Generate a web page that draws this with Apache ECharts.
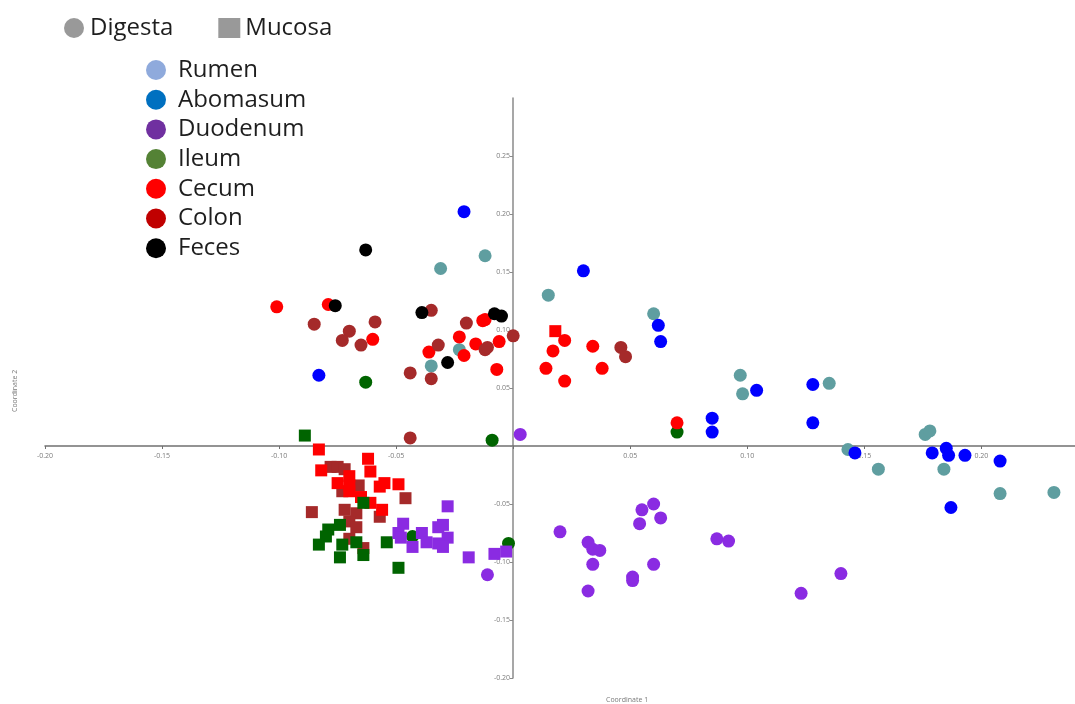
<!DOCTYPE html>
<html>
<head>
<meta charset="utf-8">
<title>PCoA by gut region</title>
<script src="https://cdn.jsdelivr.net/npm/echarts@6/dist/echarts.min.js"></script>
<style>
  html, body { margin: 0; padding: 0; background: #fff; }
  #chart { width: 1075px; height: 704px; }
</style>
</head>
<body>
<div id="chart"></div>
<script>
const regions = ['Rumen', 'Abomasum', 'Duodenum', 'Ileum', 'Cecum', 'Colon', 'Feces']

const rumenDigesta = [
  [-0.012, 0.164], [-0.031, 0.153], [-0.023, 0.083], [-0.035, 0.069], [0.015, 0.130],
  [0.060, 0.114], [0.097, 0.061], [0.098, 0.045], [0.135, 0.054], [0.143, -0.003],
  [0.156, -0.020], [0.176, 0.010], [0.178, 0.013], [0.184, -0.020], [0.208, -0.041],
  [0.231, -0.040],
]
const abomasumDigesta = [
  [-0.021, 0.202], [-0.083, 0.061], [0.030, 0.151], [0.062, 0.104], [0.063, 0.090],
  [0.104, 0.048], [0.128, 0.053], [0.085, 0.024], [0.085, 0.012], [0.128, 0.020],
  [0.146, -0.006], [0.179, -0.006], [0.185, -0.002], [0.186, -0.008], [0.193, -0.008],
  [0.208, -0.013], [0.187, -0.053],
]
const duodenumDigesta = [
  [0.003, 0.010], [-0.011, -0.111], [0.020, -0.074], [0.032, -0.083], [0.034, -0.089],
  [0.037, -0.090], [0.034, -0.102], [0.032, -0.125], [0.055, -0.055], [0.060, -0.050],
  [0.063, -0.062], [0.054, -0.067], [0.060, -0.102], [0.051, -0.113], [0.051, -0.116],
  [0.087, -0.080], [0.092, -0.082], [0.140, -0.110], [0.123, -0.127],
]
const duodenumMucosa = [
  [-0.028, -0.052], [-0.047, -0.067], [-0.049, -0.075], [-0.048, -0.079], [-0.039, -0.075],
  [-0.043, -0.087], [-0.037, -0.083], [-0.032, -0.070], [-0.030, -0.068], [-0.028, -0.079],
  [-0.032, -0.084], [-0.030, -0.087], [-0.019, -0.096], [-0.008, -0.093], [-0.003, -0.091],
]
const ileumDigesta = [
  [-0.063, 0.055], [-0.009, 0.005], [0.070, 0.012], [-0.043, -0.078], [-0.002, -0.084],
]
const ileumMucosa = [
  [-0.089, 0.009], [-0.064, -0.049], [-0.079, -0.072], [-0.080, -0.078], [-0.074, -0.068],
  [-0.083, -0.085], [-0.073, -0.085], [-0.067, -0.083], [-0.064, -0.094], [-0.074, -0.096],
  [-0.054, -0.083], [-0.049, -0.105],
]
const cecumDigesta = [
  [-0.101, 0.120], [-0.079, 0.122], [-0.060, 0.092], [-0.013, 0.108], [-0.012, 0.109],
  [-0.023, 0.094], [-0.036, 0.081], [-0.021, 0.078], [-0.016, 0.088], [-0.006, 0.090],
  [-0.007, 0.066], [0.022, 0.091], [0.017, 0.082], [0.014, 0.067], [0.022, 0.056],
  [0.034, 0.086], [0.038, 0.067], [0.070, 0.020],
]
const cecumMucosa = [
  [0.018, 0.099], [-0.083, -0.003], [-0.062, -0.011], [-0.082, -0.021], [-0.061, -0.022],
  [-0.070, -0.026], [-0.075, -0.032], [-0.070, -0.034], [-0.070, -0.039], [-0.057, -0.035],
  [-0.055, -0.032], [-0.049, -0.033], [-0.065, -0.044], [-0.061, -0.049], [-0.056, -0.055],
]
const colonDigesta = [
  [-0.035, 0.117], [-0.085, 0.105], [-0.059, 0.107], [-0.070, 0.099], [-0.073, 0.091],
  [-0.065, 0.087], [-0.020, 0.106], [-0.032, 0.087], [-0.012, 0.083], [-0.011, 0.085],
  [0.000, 0.095], [-0.044, 0.063], [-0.035, 0.058], [-0.044, 0.007], [0.046, 0.085],
  [0.048, 0.077],
]
const colonMucosa = [
  [-0.078, -0.018], [-0.075, -0.018], [-0.072, -0.020], [-0.073, -0.039], [-0.066, -0.034],
  [-0.046, -0.045], [-0.086, -0.057], [-0.072, -0.055], [-0.067, -0.058], [-0.057, -0.061],
  [-0.070, -0.065], [-0.067, -0.070], [-0.070, -0.080], [-0.064, -0.088],
]
const fecesDigesta = [
  [-0.063, 0.169], [-0.076, 0.121], [-0.039, 0.115], [-0.008, 0.114], [-0.005, 0.112],
  [-0.028, 0.072],
]

// marker colours in the plot vs. colours in the legend swatches
const pointColors = {
  Rumen: '#5f9ea0', Abomasum: '#0000ff', Duodenum: '#8a2be2', Ileum: '#006400',
  Cecum: '#ff0000', Colon: '#a52a2a', Feces: '#000000',
}
const legendColors = {
  Rumen: '#8faadc', Abomasum: '#0070c0', Duodenum: '#7030a0', Ileum: '#548235',
  Cecum: '#ff0000', Colon: '#c00000', Feces: '#000000',
}

const groups = [
  ['Rumen', 'circle', rumenDigesta],
  ['Abomasum', 'circle', abomasumDigesta],
  ['Duodenum', 'circle', duodenumDigesta],
  ['Ileum', 'circle', ileumDigesta],
  ['Cecum', 'circle', cecumDigesta],
  ['Colon', 'circle', colonDigesta],
  ['Feces', 'circle', fecesDigesta],
  ['Colon', 'rect', colonMucosa],
  ['Cecum', 'rect', cecumMucosa],
  ['Ileum', 'rect', ileumMucosa],
  ['Duodenum', 'rect', duodenumMucosa],
]

// grid: x from 45 to 1075 px (-0.20..0.24), y from 98 to 678 px (0.30..-0.20)
// axes cross at zero, so shift them in from the grid edges
const yAxisShift = -468
const xAxisShift = -232

const tickLabel = (v) => (Math.abs(v) < 1e-9 ? '' : v.toFixed(2))
const axisFont = { color: '#7a7a7a', fontSize: 7, fontFamily: 'Open Sans' }
const legendFont = { color: '#1e1e1e', fontSize: 24, fontFamily: 'Open Sans', lineHeight: 24 }

const chart = echarts.init(document.getElementById('chart'))
chart.setOption({
  animation: false,
  grid: { left: 45, right: 0, top: 98, bottom: 26 },
  legend: [
    {
      orient: 'horizontal',
      left: 59,
      top: 11,
      itemWidth: 22,
      itemHeight: 20,
      itemGap: 45,
      textStyle: { ...legendFont, padding: 0 },
      data: [
        { name: 'Digesta', icon: 'circle', itemStyle: { color: '#808080' } },
        { name: 'Mucosa', icon: 'rect', itemStyle: { color: '#808080' } },
      ],
    },
    {
      orient: 'vertical',
      left: 141,
      top: 53,
      itemWidth: 22,
      itemHeight: 20,
      itemGap: 5.7,
      textStyle: { ...legendFont, padding: [0, 0, 0, 6] },
      data: regions.map((name) => ({
        name,
        icon: 'circle',
        itemStyle: { color: legendColors[name] },
      })),
    },
  ],
  xAxis: {
    type: 'value',
    position: 'bottom',
    offset: xAxisShift,
    min: -0.2,
    max: 0.24,
    interval: 0.05,
    splitLine: { show: false },
    axisLine: { onZero: false, lineStyle: { color: '#707070', width: 1.5 } },
    axisTick: { length: 3, lineStyle: { color: '#707070' } },
    axisLabel: { ...axisFont, margin: 6, formatter: tickLabel, showMaxLabel: false },
  },
  yAxis: {
    type: 'value',
    position: 'left',
    offset: yAxisShift,
    min: -0.2,
    max: 0.3,
    interval: 0.05,
    splitLine: { show: false },
    axisLine: { onZero: false, lineStyle: { color: '#8a8a8a', width: 1.5 } },
    axisTick: { length: 3, lineStyle: { color: '#8a8a8a' } },
    axisLabel: { ...axisFont, margin: 3, formatter: tickLabel, showMaxLabel: false },
  },
  graphic: [
    {
      type: 'text',
      left: 606,
      top: 696,
      style: { text: 'Coordinate 1', fill: '#7a7a7a', font: '7px "Open Sans"' },
    },
    {
      type: 'text',
      x: 11,
      y: 412,
      rotation: Math.PI / 2,
      style: { text: 'Coordinate 2', fill: '#7a7a7a', font: '7px "Open Sans"' },
    },
  ],
  series: [
    { name: 'Digesta', type: 'scatter', data: [], itemStyle: { color: '#808080' } },
    { name: 'Mucosa', type: 'scatter', data: [], itemStyle: { color: '#808080' } },
    ...groups.map(([name, symbol, data]) => ({
      name,
      type: 'scatter',
      symbol,
      symbolSize: symbol === 'rect' ? 12 : 13,
      data,
      itemStyle: { color: pointColors[name], opacity: 1 },
    })),
  ],
})
</script>
</body>
</html>
